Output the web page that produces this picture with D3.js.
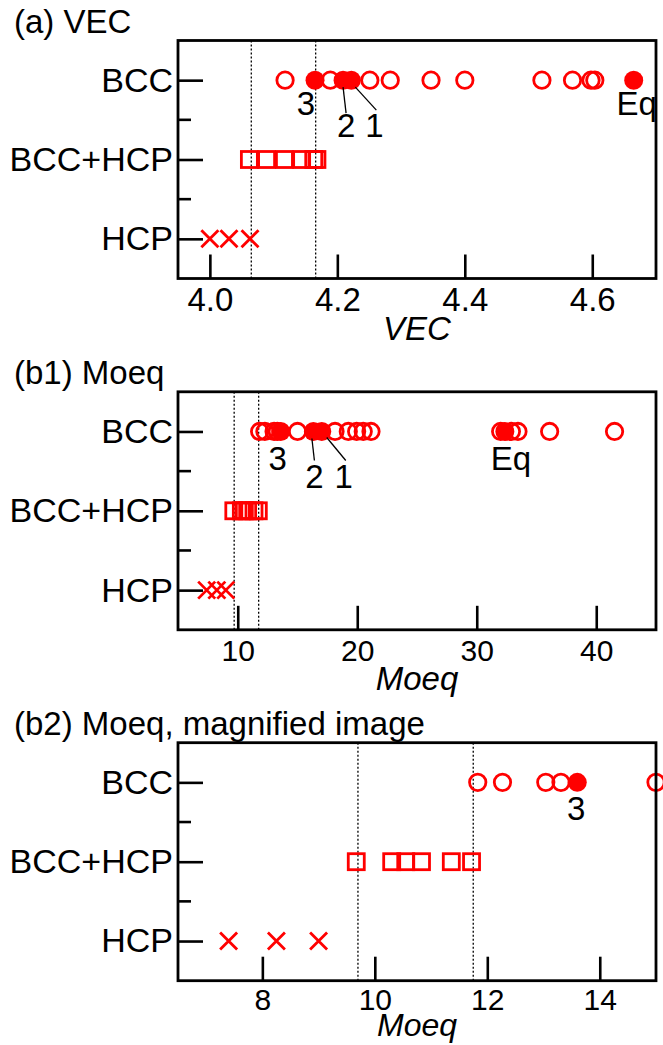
<!DOCTYPE html>
<html>
<head>
<meta charset="utf-8">
<script src="https://cdn.jsdelivr.net/npm/d3@7"></script>
<style>
  body { margin: 0; background: #fff; }
  svg { display: block; font-family: "Liberation Sans", Arial, sans-serif; }
</style>
</head>
<body>
<svg id="chart_svg" width="663" height="1045"></svg>
<script>
// phase categories, bottom to top
var categories = ["HCP", "BCC+HCP", "BCC"];

// (a) VEC
var vecTicks = [4.0, 4.2, 4.4, 4.6];
var vecLimits = [4.065, 4.166];
var vecHCP = [4.00, 4.03, 4.063];
var vecMix = [4.062, 4.089, 4.117, 4.144, 4.163, 4.168];
var vecBCC = [4.118, 4.189, 4.251, 4.283, 4.347, 4.400, 4.521, 4.569, 4.598, 4.604];
var vecMarked = [4.165, 4.209, 4.222, 4.665];

// (b1)/(b2) Moeq
var moeqTicksWide = [10, 20, 30, 40];
var moeqTicksZoom = [8, 10, 12, 14];
var moeqLimits = [9.7, 11.75];
var moeqHCP = [7.40, 8.25, 9.00];
var moeqMix = [9.67, 10.30, 10.55, 10.83, 11.36, 11.72];
var moeqBCC = [11.83, 12.27, 13.04, 13.31, 15.0, 18.14, 19.25, 19.95, 20.5, 21.15, 32.0, 32.9, 33.45, 36.1, 41.53];
var moeqMarked = [13.60, 16.33, 17.03, 32.35];

var markedNames = ["3", "2", "1", "Eq"];

var red = "#ff0000";
var frame = { left: 178, right: 656, height: 238 };

var panels = [
    { title: "(a) VEC", label: "VEC", top: 40.5, domain: [3.95, 4.70], ticks: vecTicks, tickFont: 33, tickPad: 9,
      tickFmt: d3.format(".1f"), limits: vecLimits, labelFont: 33,
      hcp: vecHCP, mix: vecMix, bcc: vecBCC, marked: vecMarked, labelY: 340,
      // [dx, dy] of label, then optional leader line [x1,y1,x2,y2] relative to point
      notes: [ { dx: -9, dy: 35 }, { dx: 3, dy: 57, line: [0, 7, 3, 33] },
               { dx: 23, dy: 57, line: [4, 7, 25, 30] }, { dx: 3, dy: 35 } ] },
    { title: "(b1) Moeq", label: "Moeq", top: 391.8, domain: [5, 45], ticks: moeqTicksWide, tickFont: 30, tickPad: 10,
      tickFmt: d3.format("d"), limits: moeqLimits, labelFont: 33,
      hcp: moeqHCP, mix: moeqMix, bcc: moeqBCC, marked: moeqMarked, labelY: 690,
      notes: [ { dx: -3, dy: 39 }, { dx: 1, dy: 57, line: [-1.5, 7, 1, 29] },
               { dx: 22, dy: 57, line: [5, 6, 24, 29] }, { dx: 6, dy: 39 } ] },
    { title: "(b2) Moeq, magnified image", label: "Moeq", top: 742.7, domain: [6.5, 15], ticks: moeqTicksZoom, tickFont: 30, tickPad: 8,
      tickFmt: d3.format("d"), limits: moeqLimits, labelFont: 32,
      hcp: moeqHCP, mix: moeqMix, bcc: moeqBCC, marked: moeqMarked, labelY: 1036,
      notes: [ { dx: -1, dy: 38 }, null, null, null ] }
];

function draw_panel(p) {
    var base = d3.select("#chart_svg");
    var x = d3.scaleLinear().domain(p.domain).range([frame.left, frame.right]);
    var y = d3.scaleLinear().domain([0.5, 3.5]).range([p.top + frame.height, p.top]);
    var lo = p.domain[0] - 0.01 * (p.domain[1] - p.domain[0]);
    var hi = p.domain[1] + 0.01 * (p.domain[1] - p.domain[0]);
    var inside = function(v) { return v >= lo && v <= hi; };

    var g = base.append("g");

    // Panel title
    g.append("text")
        .text(p.title)
        .attr("x", 14)
        .attr("y", p.top - 8)
        .attr("font-size", "33px");

    // Dotted phase limits
    g.selectAll(".limit")
        .data(p.limits)
        .enter().append("line")
        .attr("x1", function(d) { return x(d); })
        .attr("x2", function(d) { return x(d); })
        .attr("y1", p.top)
        .attr("y2", p.top + frame.height)
        .attr("stroke", "#000")
        .attr("stroke-width", 1.3)
        .attr("stroke-dasharray", "2,2");

    // x axis, ticks pointing inwards
    var xAxis = g.append("g")
        .attr("transform", "translate(0," + (p.top + frame.height) + ")")
        .call(d3.axisBottom(x).tickValues(p.ticks).tickFormat(p.tickFmt)
              .tickSize(-24).tickSizeOuter(0).tickPadding(p.tickPad));
    xAxis.select(".domain").remove();
    xAxis.selectAll("line").attr("stroke-width", 2.6);
    xAxis.selectAll("text").attr("font-size", p.tickFont + "px").attr("font-family", null).attr("fill", "#000");

    // y axis with category names
    var yAxis = g.append("g")
        .attr("transform", "translate(" + frame.left + ",0)")
        .call(d3.axisLeft(y).tickValues([1, 2, 3]).tickFormat(function(d) { return categories[d - 1]; })
              .tickSize(-25).tickSizeOuter(0).tickPadding(5));
    yAxis.select(".domain").remove();
    yAxis.selectAll("line").attr("stroke-width", 2.6);
    yAxis.selectAll("text").attr("font-size", "34px").attr("font-family", null).attr("fill", "#000");

    // minor ticks between categories
    g.selectAll(".minor")
        .data([1.5, 2.5])
        .enter().append("line")
        .attr("x1", frame.left)
        .attr("x2", frame.left + 13)
        .attr("y1", function(d) { return y(d); })
        .attr("y2", function(d) { return y(d); })
        .attr("stroke", "#000")
        .attr("stroke-width", 2.6);

    // HCP crosses
    g.selectAll(".hcp")
        .data(p.hcp.filter(inside))
        .enter().append("path")
        .attr("d", function(d) {
            var cx = x(d), cy = y(1), s = 8.5;
            return "M" + (cx - s) + "," + (cy - s) + "L" + (cx + s) + "," + (cy + s) +
                   "M" + (cx - s) + "," + (cy + s) + "L" + (cx + s) + "," + (cy - s);
        })
        .attr("stroke", red)
        .attr("stroke-width", 2.8)
        .attr("fill", "none");

    // BCC+HCP squares
    g.selectAll(".mix")
        .data(p.mix.filter(inside))
        .enter().append("rect")
        .attr("x", function(d) { return x(d) - 8; })
        .attr("y", y(2) - 8)
        .attr("width", 16)
        .attr("height", 16)
        .attr("stroke", red)
        .attr("stroke-width", 2.8)
        .attr("fill", "none");

    // BCC open circles
    g.selectAll(".bcc")
        .data(p.bcc.filter(inside))
        .enter().append("circle")
        .attr("cx", function(d) { return x(d); })
        .attr("cy", y(3))
        .attr("r", 8.2)
        .attr("stroke", red)
        .attr("stroke-width", 2.8)
        .attr("fill", "none");

    // marked alloys (filled)
    g.selectAll(".marked")
        .data(p.marked.filter(inside))
        .enter().append("circle")
        .attr("cx", function(d) { return x(d); })
        .attr("cy", y(3))
        .attr("r", 9.5)
        .attr("fill", red);

    // annotation labels
    p.marked.forEach(function(v, i) {
        var n = p.notes[i];
        if (!n || !inside(v)) return;
        var px = x(v), py = y(3);
        if (n.line) {
            g.append("line")
                .attr("x1", px + n.line[0]).attr("y1", py + n.line[1])
                .attr("x2", px + n.line[2]).attr("y2", py + n.line[3])
                .attr("stroke", "#000")
                .attr("stroke-width", 1.3);
        }
        g.append("text")
            .text(markedNames[i])
            .attr("x", px + n.dx)
            .attr("y", py + n.dy)
            .attr("text-anchor", "middle")
            .attr("font-size", "33px");
    });

    // frame
    g.append("rect")
        .attr("x", frame.left)
        .attr("y", p.top)
        .attr("width", frame.right - frame.left)
        .attr("height", frame.height)
        .attr("fill", "none")
        .attr("stroke", "#000")
        .attr("stroke-width", 2.8);

    // axis title
    g.append("text")
        .text(p.label)
        .attr("x", (frame.left + frame.right) / 2)
        .attr("y", p.labelY)
        .attr("text-anchor", "middle")
        .attr("font-style", "italic")
        .attr("font-size", p.labelFont + "px");
}

panels.forEach(draw_panel);
</script>
</body>
</html>
